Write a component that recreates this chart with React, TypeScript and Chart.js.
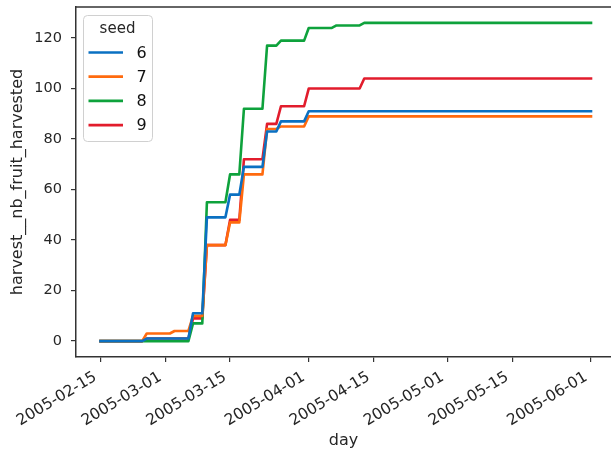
import React, { useEffect, useRef } from 'react';
import { Chart, registerables } from 'chart.js';

Chart.register(...registerables);

// x axis: days counted from 2005-02-15
const tickDays = [0, 14, 28, 45, 59, 75, 89, 106];
const tickLabels = ['2005-02-15', '2005-03-01', '2005-03-15', '2005-04-01', '2005-04-15', '2005-05-01', '2005-05-15', '2005-06-01'];
const yTicks = [0, 20, 40, 60, 80, 100, 120];
const lastDay = 106;

const seedNames = ['6', '7', '8', '9'];
// day on which each new cumulative level is reached, and the level
const seed6Days = [0, 10, 20, 23, 28, 31, 36, 39, 45];
const seed6Vals = [0, 1, 11, 49, 58, 69, 83, 87, 91];
const seed7Days = [0, 10, 16, 20, 23, 28, 31, 36, 39, 45];
const seed7Vals = [0, 3, 4, 10, 38, 47, 66, 84, 85, 89];
const seed8Days = [0, 20, 23, 28, 31, 36, 39, 45, 51, 57];
const seed8Vals = [0, 7, 55, 66, 92, 117, 119, 124, 125, 126];
const seed9Days = [0, 10, 20, 23, 28, 31, 36, 39, 45, 57];
const seed9Vals = [0, 1, 9, 38, 48, 72, 86, 93, 100, 104];

const seedColors = ['rgb(10,112,194)', 'rgb(255,106,14)', 'rgb(14,162,60)', 'rgb(226,28,44)'];

function dailyPoints(days: number[], vals: number[]) {
  const pts: { x: number; y: number }[] = [];
  for (let i = 0; i < days.length; i++) {
    if (i > 0) pts.push({ x: days[i] - 1, y: vals[i - 1] });
    pts.push({ x: days[i], y: vals[i] });
  }
  pts.push({ x: lastDay, y: vals[vals.length - 1] });
  return pts;
}

const FONT = '"DejaVu Sans", sans-serif';
const AXIS_COLOR = '#333333';
const TEXT_COLOR = '#262626';

const framePlugin = {
  id: 'frameAndLegend',
  afterDatasetsDraw(chart: any) {
    const { ctx, chartArea } = chart;
    ctx.save();
    // top spine
    ctx.strokeStyle = AXIS_COLOR;
    ctx.lineWidth = 1.5;
    ctx.beginPath();
    ctx.moveTo(chartArea.left, chartArea.top);
    ctx.lineTo(chartArea.right, chartArea.top);
    ctx.stroke();

    // legend
    const bx = chartArea.left + 7.5;
    const by = chartArea.top + 8.5;
    const bw = 69;
    const bh = 126;
    ctx.beginPath();
    ctx.roundRect(bx, by, bw, bh, 4);
    ctx.fillStyle = 'rgba(255,255,255,0.85)';
    ctx.fill();
    ctx.strokeStyle = '#d0d0d0';
    ctx.lineWidth = 1;
    ctx.stroke();

    ctx.fillStyle = TEXT_COLOR;
    ctx.font = `15px ${FONT}`;
    ctx.textAlign = 'center';
    ctx.textBaseline = 'middle';
    ctx.fillText('seed', bx + 34, by + 14);

    chart.data.datasets.forEach((ds: any, i: number) => {
      const y = by + 37 + i * 24.2;
      ctx.strokeStyle = ds.borderColor;
      ctx.lineWidth = 2.7;
      ctx.lineCap = 'butt';
      ctx.beginPath();
      ctx.moveTo(bx + 5, y);
      ctx.lineTo(bx + 39.5, y);
      ctx.stroke();
      ctx.fillStyle = '#111111';
      ctx.font = `16px ${FONT}`;
      ctx.textAlign = 'left';
      ctx.fillText(ds.label, bx + 53, y + 1);
    });
    ctx.restore();
  },
};

export default function App() {
  const canvasRef = useRef<HTMLCanvasElement | null>(null);

  useEffect(() => {
    const canvas = canvasRef.current;
    if (!canvas) return;
    const series = [
      dailyPoints(seed6Days, seed6Vals),
      dailyPoints(seed7Days, seed7Vals),
      dailyPoints(seed8Days, seed8Vals),
      dailyPoints(seed9Days, seed9Vals),
    ];
    const chart = new Chart(canvas, {
      type: 'line',
      data: {
        datasets: series.map((pts, i) => ({
          label: seedNames[i],
          data: pts,
          borderColor: seedColors[i],
          backgroundColor: seedColors[i],
          borderWidth: 2.6,
          pointRadius: 0,
          tension: 0,
          fill: false,
          borderCapStyle: 'square',
          borderJoinStyle: 'round',
        })),
      },
      options: {
        responsive: false,
        animation: false,
        events: [],
        layout: { padding: { top: 7, left: 0, right: 0, bottom: 0 } },
        plugins: {
          legend: { display: false },
          tooltip: { enabled: false },
        },
        scales: {
          x: {
            type: 'linear',
            min: -5.29,
            max: 110.32,
            afterBuildTicks: (scale: any) => {
              scale.ticks = tickDays.map((v) => ({ value: v }));
            },
            afterFit: (scale: any) => {
              scale.height = 99;
              scale.paddingLeft = 0;
              scale.paddingRight = 0;
            },
            grid: { display: true, drawOnChartArea: false, drawTicks: true, tickLength: 5, color: AXIS_COLOR, lineWidth: 1.2 },
            border: { display: true, color: AXIS_COLOR, width: 1.5 },
            ticks: {
              autoSkip: false,
              minRotation: 31,
              maxRotation: 31,
              padding: 6,
              labelOffset: -5,
              color: TEXT_COLOR,
              font: { family: FONT, size: 15.5 },
              callback: (value: any) => {
                const idx = tickDays.indexOf(Number(value));
                return idx >= 0 ? tickLabels[idx] : '';
              },
            },
            title: {
              display: true,
              text: 'day',
              color: TEXT_COLOR,
              font: { family: FONT, size: 16 },
              padding: { top: 0, bottom: 6 },
            },
          },
          y: {
            type: 'linear',
            min: -6.3,
            max: 132.3,
            afterBuildTicks: (scale: any) => {
              scale.ticks = yTicks.map((v) => ({ value: v }));
            },
            afterFit: (scale: any) => {
              scale.width = 76;
              scale.paddingTop = 0;
              scale.paddingBottom = 0;
            },
            grid: { display: true, drawOnChartArea: false, drawTicks: true, tickLength: 5, color: AXIS_COLOR, lineWidth: 1.2 },
            border: { display: true, color: AXIS_COLOR, width: 1.5 },
            ticks: {
              padding: 9,
              color: TEXT_COLOR,
              font: { family: FONT, size: 14.5 },
            },
            title: {
              display: true,
              text: 'harvest__nb_fruit_harvested',
              color: TEXT_COLOR,
              font: { family: FONT, size: 16 },
              padding: { top: 8, bottom: 0 },
            },
          },
        },
      },
      plugins: [framePlugin],
    } as any);
    return () => chart.destroy();
  }, []);

  return (
    <div style={{ position: 'absolute', left: 0, top: 0, width: 611, height: 456, overflow: 'hidden', background: '#fff' }}>
      <canvas ref={canvasRef} width={611} height={456} style={{ display: 'block' }} />
    </div>
  );
}
